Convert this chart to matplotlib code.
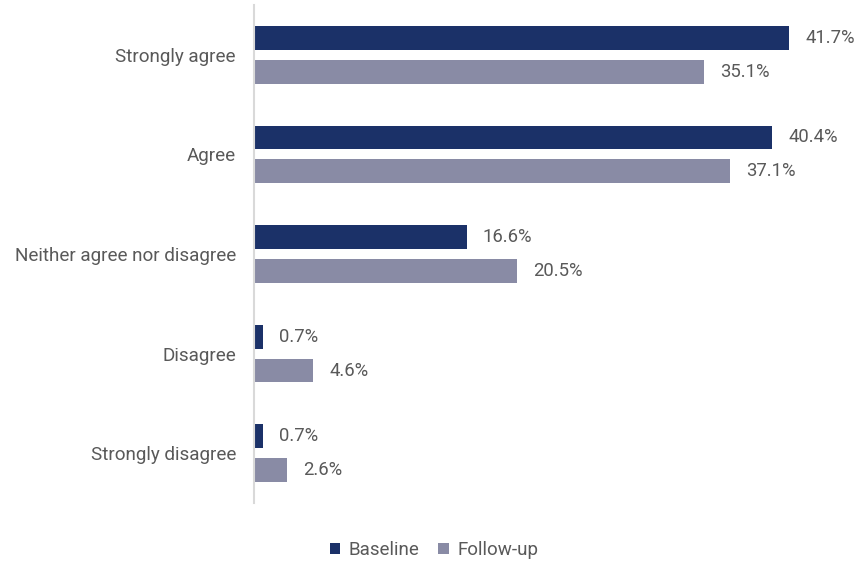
import numpy as np
import matplotlib
matplotlib.use('Agg')
from matplotlib import pyplot as plt

categories = ['Strongly agree', 'Agree', 'Neither agree nor disagree', 'Disagree', 'Strongly disagree']
baseline = [41.7, 40.4, 16.6, 0.7, 0.7]
follow_up = [35.1, 37.1, 20.5, 4.6, 2.6]
series_names = ['Baseline', 'Follow-up']

navy = '#1B3168'
grey_blue = '#898BA5'
text_color = '#595959'

plt.rcParams['font.family'] = ['Roboto', 'DejaVu Sans']

fig = plt.figure(figsize=(8.68, 5.62), dpi=100)
ax = fig.add_axes([254 / 868, 1 - 503 / 562, 603 / 868, 498 / 562])

# Categories run from top to bottom
y = np.arange(len(categories))
bar_h = 0.24
off = 0.17

b1 = ax.barh(y - off, baseline, height=bar_h, color=navy, label=series_names[0])
b2 = ax.barh(y + off, follow_up, height=bar_h, color=grey_blue, label=series_names[1])

for bars, vals in ((b1, baseline), (b2, follow_up)):
    for bar, v in zip(bars, vals):
        ax.annotate('%.1f%%' % v, (bar.get_width(), bar.get_y() + bar.get_height() / 2),
                    xytext=(16, 0), textcoords='offset pixels', va='center', ha='left',
                    fontsize=13.3, color=text_color)

ax.set_xlim(0, 47)
ax.set_ylim(len(categories) - 0.5, -0.5)
ax.set_yticks(y)
ax.set_yticklabels(categories, fontsize=13.6, color=text_color)
ax.tick_params(axis='y', length=0, pad=13)
ax.set_xticks([])

for side in ('top', 'right', 'bottom'):
    ax.spines[side].set_visible(False)
ax.spines['left'].set_color('#D9D9D9')
ax.spines['left'].set_linewidth(1.5)

fig.legend(handles=[b1, b2], loc='center', bbox_to_anchor=(434 / 868, 1 - 550 / 562), ncol=2,
           frameon=False, fontsize=13.5, labelcolor=text_color, handlelength=0.55, handleheight=0.55,
           handletextpad=0.45, columnspacing=1.0)

fig.savefig('out.png', dpi=100)
